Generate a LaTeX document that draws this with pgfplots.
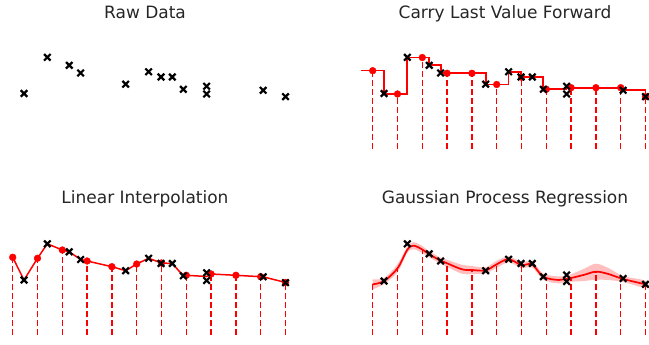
\documentclass[border=0pt]{standalone}
\usepackage{fontspec}
\setmainfont{DejaVu Sans}
\usepackage{pgfplots}
\pgfplotsset{compat=1.18}
\pgfplotsset{panel/.style={scale only axis, width=292pt, height=125pt,
  xmin=-0.512, xmax=11.262, ymin=25, ymax=150, y dir=reverse,
  hide axis, clip=false, anchor=south west, unbounded coords=jump},
  rawx/.style={only marks, mark=x, mark size=4.6pt, black, line width=2.2pt},
  comb/.style={red, line width=1.5pt, dash pattern=on 6pt off 3pt},
  gridpt/.style={only marks, mark=*, mark size=3.4pt, red}}
\begin{document}
\begin{tikzpicture}
\useasboundingbox (0pt,0pt) rectangle (649pt,345pt);
\tikzset{ttl/.style={anchor=base, font=\fontsize{17}{20}\selectfont, text=black!85}}
\node[ttl] at (145pt,326.7pt) {Raw Data};
\node[ttl] at (505pt,326.7pt) {Carry Last Value Forward};
\node[ttl] at (145pt,141.7pt) {Linear Interpolation};
\node[ttl] at (505pt,141.7pt) {Gaussian Process Regression};

% Raw data
\begin{axis}[panel, at={(0pt,195pt)}]
\addplot[rawx] coordinates {(0.456,93.5) (1.395,57.3) (2.28,65.3) (2.74,73) (4.556,84.2) (5.48,71.8) (5.98,77) (6.435,77) (6.88,89.3) (7.82,86.3) (7.82,94) (10.1,90.3) (11,96.7)};
\end{axis}

% Carry last value forward
\begin{axis}[panel, at={(360pt,195pt)}]
\addplot[comb] coordinates {(0,149) (0,70.7) (0,nan) (1,149) (1,94) (1,nan) (2,149) (2,57.5) (2,nan) (3,149) (3,73.3) (3,nan) (4,149) (4,73.3) (4,nan) (5,149) (5,84.5) (5,nan) (6,149) (6,77.2) (6,nan) (7,149) (7,89.3) (7,nan) (8,149) (8,87.7) (8,nan) (9,149) (9,87.7) (9,nan) (10,149) (10,87.7) (10,nan) (11,149) (11,96.7)};
\addplot[red, line width=1.7pt, const plot] coordinates {(-0.47,70.5) (0.456,93.7) (1.395,57.5) (2.28,65.3) (2.74,73.3) (4.556,84.5) (5.48,71.8) (5.98,77.2) (6.435,77.2) (6.88,89.3) (7.82,87.7) (10.1,90) (11,96.7)};
\addplot[gridpt] coordinates {(0,70.7) (1,94) (2,57.5) (3,73.3) (4,73.3) (5,84.5) (6,77.2) (7,89.3) (8,87.7) (9,87.7) (10,87.7) (11,96.7)};
\addplot[rawx] coordinates {(0.456,93.5) (1.395,57.3) (2.28,65.3) (2.74,73) (4.556,84.2) (5.48,71.8) (5.98,77) (6.435,77) (6.88,89.3) (7.82,86.3) (7.82,94) (10.1,90.3) (11,96.7)};
\end{axis}

% Linear interpolation
\begin{axis}[panel, at={(0pt,8.5pt)}]
\addplot[comb] coordinates {(0,149) (0,70.8) (0,nan) (1,149) (1,71.8) (1,nan) (2,149) (2,63.5) (2,nan) (3,149) (3,74.5) (3,nan) (4,149) (4,80.2) (4,nan) (5,149) (5,77.5) (5,nan) (6,149) (6,76.5) (6,nan) (7,149) (7,88.8) (7,nan) (8,149) (8,87.5) (8,nan) (9,149) (9,88.8) (9,nan) (10,149) (10,90.2) (10,nan) (11,149) (11,96)};
\addplot[red, line width=1.5pt] coordinates {(0,70.8) (0.456,93.5) (1,71.8) (1.395,57.3) (2,63.5) (2.28,65.3) (2.74,73) (3,74.5) (4,80.2) (4.556,84.2) (5,77.5) (5.48,71.8) (6,76.5) (6.435,77) (6.88,89.3) (7,88.8) (7.82,90) (8,87.5) (9,88.8) (10,90.2) (10.1,90.3) (11,96)};
\addplot[gridpt] coordinates {(0,70.8) (1,71.8) (2,63.5) (3,74.5) (4,80.2) (5,77.5) (6,76.5) (7,88.8) (8,87.5) (9,88.8) (10,90.2) (11,96)};
\addplot[rawx] coordinates {(0.456,93.5) (1.395,57.3) (2.28,65.3) (2.74,73) (4.556,84.2) (5.48,71.8) (5.98,77) (6.435,77) (6.88,89.3) (7.82,86.3) (7.82,94) (10.1,90.3) (11,96.2)};
\end{axis}

% Gaussian process regression
\begin{axis}[panel, at={(360pt,8.5pt)}]
\addplot[comb] coordinates {(0,149) (0,97.8) (0,nan) (1,149) (1,81.8) (1,nan) (2,149) (2,63) (2,nan) (3,149) (3,76.8) (3,nan) (4,149) (4,83.5) (4,nan) (5,149) (5,77.8) (5,nan) (6,149) (6,78.5) (6,nan) (7,149) (7,91.8) (7,nan) (8,149) (8,91.8) (8,nan) (9,149) (9,85.2) (9,nan) (10,149) (10,91.8) (10,nan) (11,149) (11,97.8)};
% confidence band: upper edge forward, lower edge backward
\addplot[fill=red, fill opacity=0.25, draw=none, smooth, tension=0.5] coordinates {(0,92.8) (0.456,91.5) (1,77.8) (1.39,60.5) (1.64,55.7) (2,59.5) (2.28,64.8) (2.74,71.2) (3,73.3) (3.6,78.3) (4,79.5) (4.556,80.8) (5,74.3) (5.48,69.8) (6,75.5) (6.43,75) (6.88,87.2) (7.5,90) (7.82,89.5) (8.5,82.5) (9,77.2) (9.5,81.5) (10.1,89.5) (11,94.3)
 (11,101.3) (10.1,95.5) (9.5,93.5) (9,93.2) (8.5,94.5) (7.82,95.5) (7.5,97) (6.88,93.2) (6.43,81) (6,81.5) (5.48,75.8) (5,81.3) (4.556,86.8) (4,87.5) (3.6,87.3) (3,80.3) (2.74,77.2) (2.28,70.8) (2,66.5) (1.64,62.7) (1.39,66.5) (1,85.8) (0.456,97.5) (0,102.8)} -- cycle;
\addplot[red, line width=1.7pt, smooth, tension=0.6] coordinates {(0,97.8) (0.456,94.5) (1,81.8) (1.39,63.5) (1.64,59.2) (2,63) (2.28,67.8) (2.74,74.2) (3,76.8) (3.6,82.8) (4,83.5) (4.556,83.8) (5,77.8) (5.48,72.8) (6,78.5) (6.43,78) (6.88,90.2) (7.5,93.5) (7.82,92.5) (8.5,88.5) (9,85.2) (9.5,87.5) (10.1,92.5) (11,97.8)};
\addplot[rawx] coordinates {(0.456,94.5) (1.395,57.3) (2.28,67.3) (2.74,74.5) (4.556,84.2) (5.48,72.8) (5.98,77) (6.435,77) (6.88,90.2) (7.82,88.5) (7.82,95) (10.1,92) (11,97.8)};
\end{axis}
\end{tikzpicture}
\end{document}
